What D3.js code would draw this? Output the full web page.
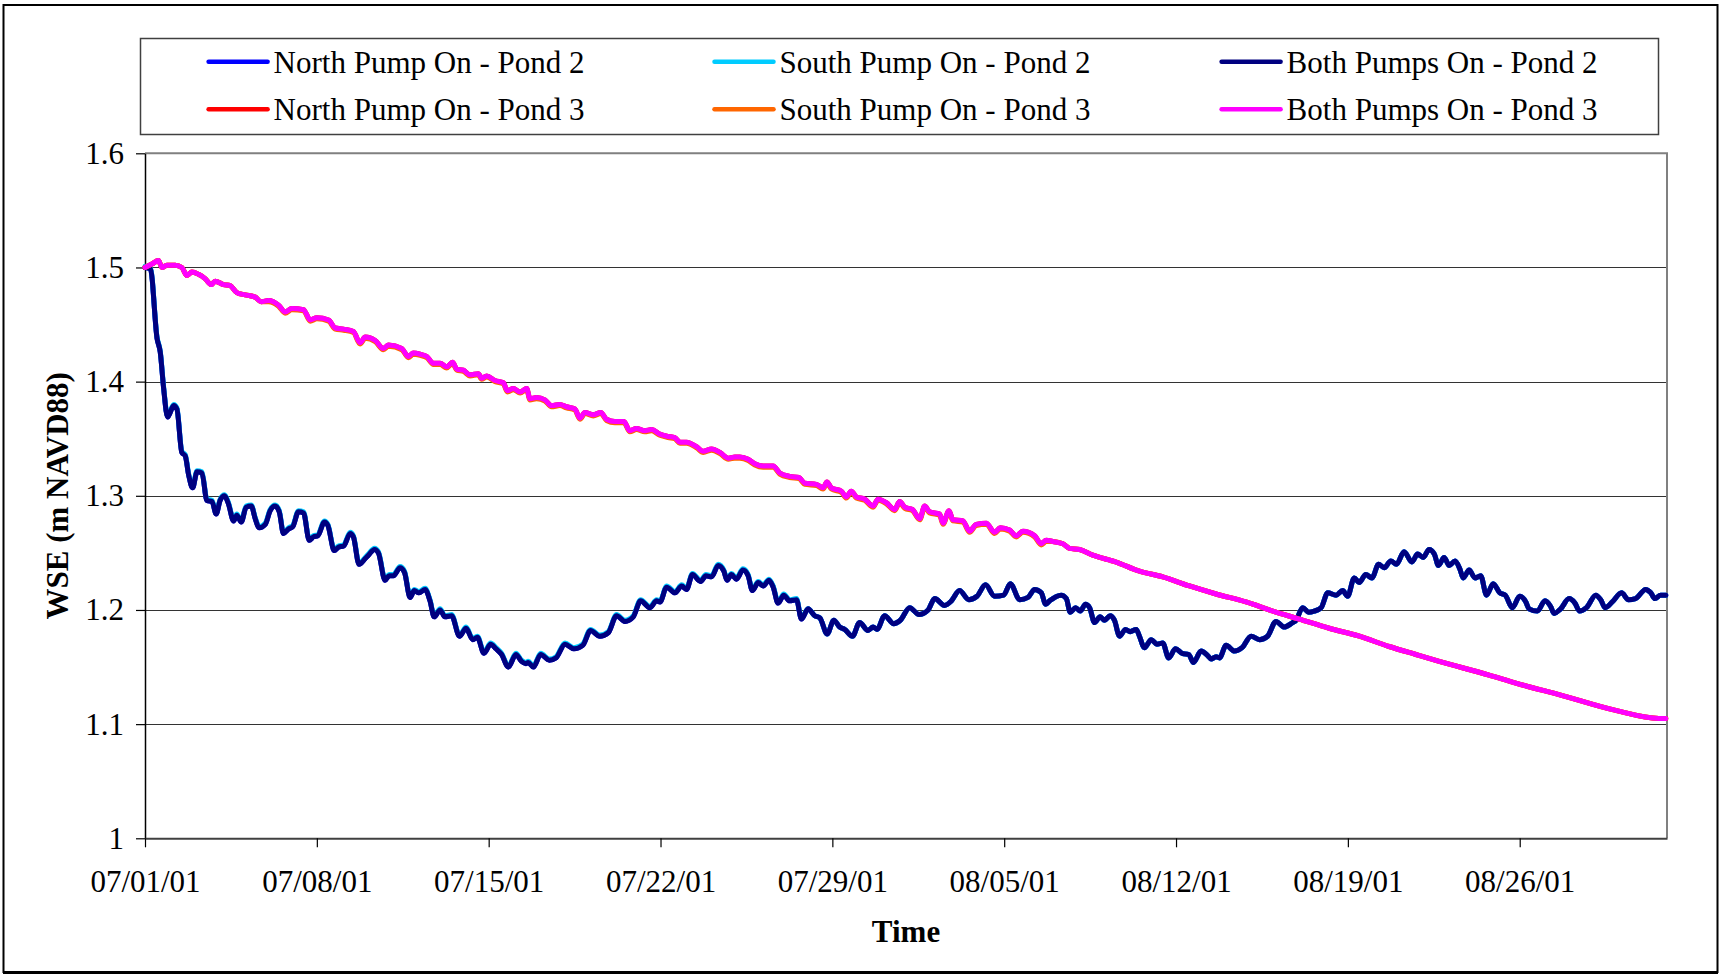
<!DOCTYPE html>
<html><head><meta charset="utf-8">
<script src="https://cdn.jsdelivr.net/npm/d3@7"></script>
<style>html,body{margin:0;padding:0;background:#fff;} svg{display:block;}</style>
</head><body>
<script>
// ---- DATA ----
// days since 07/01/01 00:00
const p2Days=[0,0.22,0.49,0.62,0.76,0.92,1.17,1.30,1.50,1.64,
1.78,1.94,2.12,2.32,2.52,2.73,2.90,3.06,3.24,3.40,
3.61,3.74,3.92,4.12,4.33,4.49,4.65,4.90,5.10,5.30,
5.47,5.64,5.85,6.02,6.25,6.46,6.69,6.86,7.04,7.31,
7.45,7.71,7.88,8.09,8.36,8.49,8.72,8.97,9.10,9.35,
9.51,9.78,9.94,10.12,10.39,10.57,10.80,10.97,11.16,11.41,
11.61,11.78,12.02,12.22,12.49,12.81,13.08,13.35,13.54,13.81,
14.08,14.30,14.53,14.80,15.11,15.34,15.52,15.61,15.82,16.12,
16.47,16.74,17.11,17.47,17.83,18.15,18.53,18.87,19.21,19.55,
19.89,20.19,20.57,20.84,20.98,21.25,21.59,21.86,22.06,22.30,
22.63,22.85,23.08,23.35,23.58,23.71,23.89,24.09,24.36,24.57,
24.74,24.98,25.18,25.42,25.59,25.79,26.02,26.26,26.54,26.74,
27.01,27.28,27.49,27.79,28.06,28.30,28.50,28.82,29.11,29.45,
29.66,29.82,30.13,30.50,30.77,31.15,31.53,31.90,32.17,32.57,
32.85,33.18,33.56,33.89,34.24,34.61,34.98,35.25,35.63,35.97,
36.24,36.51,36.69,36.85,37.32,37.53,37.69,37.91,38.10,38.31,
38.48,38.68,38.91,39.09,39.32,39.49,39.70,39.94,40.13,40.38,
40.51,40.71,40.99,41.22,41.46,41.70,41.98,42.25,42.52,42.71,
43.02,43.29,43.43,43.63,43.77,44.04,44.38,44.69,45.06,45.40,
45.73,46.07,46.41,46.75,46.89,47.16,47.40,47.63,47.91,48.18,
48.52,48.79,48.99,49.26,49.46,49.73,49.98,50.25,50.48,50.75,
50.98,51.29,51.61,51.84,52.07,52.31,52.52,52.69,52.92,53.13,
53.37,53.56,53.70,53.94,54.18,54.41,54.65,54.92,55.19,55.41,
55.70,56.00,56.25,56.38,56.72,57.03,57.26,57.40,57.67,58.01,
58.25,58.44,58.72,59.10,59.30,59.48,59.77,60.15,60.43,60.72,
61.13,61.34,61.51,61.74,61.95];

const bothPond2=[1.500,1.499,1.438,1.426,1.394,1.369,1.379,1.376,1.338,1.335,
1.318,1.307,1.321,1.320,1.296,1.295,1.284,1.296,1.300,1.293,
1.278,1.283,1.277,1.290,1.291,1.280,1.272,1.275,1.287,1.291,
1.286,1.267,1.271,1.273,1.286,1.285,1.261,1.264,1.265,1.277,
1.274,1.252,1.255,1.256,1.267,1.264,1.240,1.245,1.248,1.253,
1.250,1.226,1.230,1.230,1.237,1.233,1.211,1.217,1.215,1.218,
1.208,1.194,1.200,1.194,1.195,1.177,1.184,1.174,1.176,1.162,
1.170,1.166,1.161,1.150,1.161,1.155,1.153,1.154,1.150,1.161,
1.156,1.158,1.170,1.166,1.169,1.182,1.177,1.180,1.195,1.190,
1.194,1.208,1.202,1.208,1.207,1.220,1.215,1.221,1.218,1.231,
1.225,1.230,1.229,1.239,1.234,1.226,1.231,1.227,1.235,1.230,
1.217,1.224,1.221,1.226,1.220,1.206,1.213,1.208,1.209,1.192,
1.201,1.195,1.193,1.179,1.191,1.185,1.183,1.177,1.189,1.182,
1.185,1.183,1.195,1.188,1.191,1.202,1.196,1.200,1.210,1.204,
1.208,1.217,1.209,1.212,1.222,1.212,1.213,1.223,1.209,1.211,
1.218,1.215,1.205,1.208,1.213,1.210,1.198,1.202,1.199,1.205,
1.202,1.189,1.194,1.191,1.195,1.191,1.177,1.183,1.181,1.183,
1.177,1.167,1.174,1.170,1.171,1.158,1.166,1.162,1.161,1.154,
1.164,1.160,1.157,1.159,1.158,1.169,1.164,1.167,1.177,1.174,
1.177,1.190,1.185,1.189,1.191,1.202,1.198,1.199,1.202,1.215,
1.213,1.217,1.212,1.228,1.224,1.231,1.228,1.240,1.237,1.243,
1.240,1.251,1.242,1.249,1.246,1.253,1.249,1.239,1.246,1.239,
1.243,1.236,1.228,1.235,1.228,1.230,1.213,1.223,1.215,1.213,
1.202,1.212,1.207,1.201,1.199,1.208,1.203,1.197,1.201,1.210,
1.206,1.199,1.202,1.213,1.209,1.202,1.207,1.215,1.209,1.210,
1.218,1.215,1.210,1.213,1.213];

const northPond2=[1.500,1.499,1.438,1.426,1.394,1.369,1.379,1.376,1.338,1.335,
1.318,1.307,1.321,1.320,1.296,1.295,1.284,1.296,1.300,1.293,
1.278,1.283,1.277,1.290,1.291,1.280,1.272,1.275,1.287,1.291,
1.286,1.267,1.271,1.273,1.286,1.285,1.261,1.264,1.265,1.277,
1.274,1.252,1.255,1.256,1.267,1.264,1.240,1.245,1.248,1.253,
1.250,1.226,1.230,1.230,1.237,1.233,1.211,1.217,1.215,1.218,
1.208,1.194,1.200,1.194,1.195,1.177,1.184,1.174,1.176,1.162,
1.170,1.166,1.161,1.150,1.161,1.155,1.153,1.154,1.150,1.161,
1.156,1.158,1.170,1.166,1.169,1.182,1.177,1.180,1.195,1.190,
1.194,1.208,1.202,1.208,1.207,1.220,1.215,1.221,1.218,1.231,
1.225,1.230,1.229,1.239,1.234,1.226,1.231,1.227,1.235,1.230,
1.217,1.224,1.221,1.226,1.220,1.206,1.213,1.208,1.209,1.192,
1.201,1.195,1.193,1.179,1.191,1.185,1.183,1.177,1.189,1.182,
1.185,1.183,1.195,1.188,1.191,1.202,1.196,1.200,1.210,1.204,
1.208,1.217,1.209,1.212,1.222,1.212,1.213,1.223,1.209,1.211,
1.218,1.215,1.205,1.208,1.213,1.210,1.198,1.202,1.199,1.205,
1.202,1.189,1.194,1.191,1.195,1.191,1.177,1.183,1.181,1.183,
1.177,1.167,1.174,1.170,1.171,1.158,1.166,1.162,1.161,1.154,
1.164,1.160,1.157,1.159,1.158,1.169,1.164,1.167,1.177,1.174,
1.177,1.190,1.185,1.189,1.191,1.202,1.198,1.199,1.202,1.215,
1.213,1.217,1.212,1.228,1.224,1.231,1.228,1.240,1.237,1.243,
1.240,1.251,1.242,1.249,1.246,1.253,1.249,1.239,1.246,1.239,
1.243,1.236,1.228,1.235,1.228,1.230,1.213,1.223,1.215,1.213,
1.202,1.212,1.207,1.201,1.199,1.208,1.203,1.197,1.201,1.210,
1.206,1.199,1.202,1.213,1.209,1.202,1.207,1.215,1.209,1.210,
1.218,1.215,1.210,1.213,1.213];

const southPond2=[1.501,1.500,1.439,1.427,1.395,1.370,1.380,1.377,1.339,1.336,
1.319,1.308,1.322,1.321,1.297,1.296,1.285,1.297,1.301,1.294,
1.279,1.284,1.278,1.291,1.292,1.281,1.273,1.276,1.288,1.292,
1.287,1.268,1.272,1.274,1.287,1.286,1.262,1.265,1.266,1.278,
1.275,1.253,1.256,1.257,1.268,1.265,1.241,1.246,1.249,1.254,
1.251,1.227,1.231,1.231,1.238,1.234,1.212,1.218,1.216,1.219,
1.209,1.195,1.201,1.195,1.196,1.178,1.185,1.175,1.177,1.163,
1.171,1.167,1.162,1.151,1.162,1.156,1.154,1.155,1.151,1.162,
1.157,1.159,1.171,1.167,1.170,1.183,1.178,1.181,1.196,1.191,
1.195,1.209,1.203,1.209,1.208,1.221,1.216,1.222,1.219,1.232,
1.226,1.231,1.230,1.240,1.235,1.227,1.232,1.228,1.236,1.231,
1.218,1.225,1.222,1.227,1.221,1.207,1.214,1.209,1.210,1.193,
1.201,1.195,1.193,1.179,1.191,1.185,1.183,1.177,1.189,1.182,
1.185,1.183,1.195,1.188,1.191,1.202,1.196,1.200,1.210,1.204,
1.208,1.217,1.209,1.212,1.222,1.212,1.213,1.223,1.209,1.211,
1.218,1.215,1.205,1.208,1.213,1.210,1.198,1.202,1.199,1.205,
1.202,1.189,1.194,1.191,1.195,1.191,1.177,1.183,1.181,1.183,
1.177,1.167,1.174,1.170,1.171,1.158,1.166,1.162,1.161,1.154,
1.164,1.160,1.157,1.159,1.158,1.169,1.164,1.167,1.177,1.174,
1.177,1.190,1.185,1.189,1.191,1.202,1.198,1.199,1.202,1.215,
1.213,1.217,1.212,1.228,1.224,1.231,1.228,1.240,1.237,1.243,
1.240,1.251,1.242,1.249,1.246,1.253,1.249,1.239,1.246,1.239,
1.243,1.236,1.228,1.235,1.228,1.230,1.213,1.223,1.215,1.213,
1.202,1.212,1.207,1.201,1.199,1.208,1.203,1.197,1.201,1.210,
1.206,1.199,1.202,1.213,1.209,1.202,1.207,1.215,1.209,1.210,
1.218,1.215,1.210,1.213,1.213];

const p3Days=[0,0.28,0.55,0.69,0.89,1.23,1.50,1.71,1.91,2.18,
2.46,2.70,2.86,3.20,3.47,3.74,4.08,4.49,4.73,5.03,
5.44,5.71,5.98,6.46,6.73,7.00,7.48,7.75,8.09,8.49,
8.76,8.97,9.38,9.71,9.92,10.46,10.73,10.93,11.21,11.48,
11.75,12.02,12.29,12.53,12.70,12.97,13.24,13.58,13.71,13.92,
14.26,14.60,14.76,15.00,15.28,15.55,15.68,15.95,16.29,16.56,
16.90,17.17,17.51,17.72,17.92,18.26,18.57,18.80,19.14,19.51,
19.75,20.02,20.36,20.64,20.97,21.31,21.58,21.79,22.06,22.47,
22.74,23.08,23.42,23.76,24.03,24.23,24.57,24.84,25.18,25.59,
25.86,26.26,26.64,26.88,27.35,27.62,27.78,27.96,28.37,28.57,
28.77,28.98,29.32,29.66,29.86,30.20,30.54,30.74,30.95,31.26,
31.56,31.76,31.96,32.37,32.51,32.75,32.91,33.32,33.59,33.86,
34.27,34.61,34.84,35.22,35.49,35.76,36.24,36.51,36.71,36.98,
37.39,37.66,38.07,38.61,39.56,40.51,41.46,42.55,43.63,44.85,
45.94,47.02,48.24,49.47,50.68,51.77,52.72,54.75,55.84,57.74,
59.91,61.67,61.95];

const bothPond3=[1.500,1.503,1.506,1.500,1.502,1.502,1.500,1.493,1.496,1.494,
1.490,1.485,1.488,1.485,1.484,1.478,1.476,1.474,1.470,1.471,
1.467,1.461,1.464,1.463,1.454,1.456,1.454,1.447,1.446,1.444,
1.434,1.439,1.436,1.429,1.432,1.429,1.422,1.425,1.424,1.422,
1.416,1.416,1.413,1.417,1.411,1.410,1.406,1.407,1.403,1.405,
1.401,1.399,1.392,1.394,1.391,1.394,1.385,1.386,1.384,1.379,
1.380,1.378,1.376,1.368,1.373,1.371,1.373,1.367,1.365,1.365,
1.357,1.359,1.357,1.358,1.354,1.352,1.351,1.347,1.347,1.343,
1.339,1.341,1.338,1.333,1.334,1.334,1.332,1.328,1.326,1.326,
1.320,1.317,1.316,1.311,1.310,1.307,1.312,1.307,1.304,1.299,
1.304,1.299,1.297,1.291,1.297,1.294,1.288,1.295,1.290,1.288,
1.280,1.291,1.286,1.284,1.276,1.287,1.279,1.278,1.269,1.275,
1.276,1.268,1.272,1.270,1.265,1.269,1.265,1.258,1.261,1.260,
1.258,1.254,1.253,1.248,1.242,1.234,1.229,1.221,1.214,1.207,
1.199,1.192,1.184,1.177,1.168,1.161,1.155,1.143,1.136,1.125,
1.112,1.105,1.105];

const northPond3=[1.500,1.503,1.506,1.500,1.502,1.502,1.500,1.493,1.496,1.494,
1.490,1.485,1.488,1.485,1.484,1.478,1.476,1.474,1.470,1.471,
1.467,1.461,1.464,1.463,1.454,1.456,1.454,1.447,1.446,1.444,
1.434,1.439,1.436,1.429,1.432,1.429,1.422,1.425,1.424,1.422,
1.416,1.416,1.413,1.417,1.411,1.410,1.406,1.407,1.403,1.405,
1.401,1.399,1.392,1.394,1.391,1.394,1.385,1.386,1.384,1.379,
1.380,1.378,1.376,1.368,1.373,1.371,1.373,1.367,1.365,1.365,
1.357,1.359,1.357,1.358,1.354,1.352,1.351,1.347,1.347,1.343,
1.339,1.341,1.338,1.333,1.334,1.334,1.332,1.328,1.326,1.326,
1.320,1.317,1.316,1.311,1.310,1.307,1.312,1.307,1.304,1.299,
1.304,1.299,1.297,1.291,1.297,1.294,1.288,1.295,1.290,1.288,
1.280,1.291,1.286,1.284,1.276,1.287,1.279,1.278,1.269,1.275,
1.276,1.268,1.272,1.270,1.265,1.269,1.265,1.258,1.261,1.260,
1.258,1.254,1.253,1.248,1.242,1.234,1.229,1.221,1.214,1.207,
1.199,1.192,1.184,1.177,1.168,1.161,1.155,1.143,1.136,1.125,
1.112,1.105,1.105];

const southPond3=[1.500,1.503,1.506,1.500,1.502,1.502,1.500,1.493,1.496,1.494,
1.490,1.485,1.488,1.485,1.484,1.478,1.476,1.474,1.470,1.470,
1.466,1.460,1.463,1.462,1.453,1.455,1.453,1.446,1.445,1.443,
1.433,1.438,1.435,1.428,1.431,1.428,1.421,1.424,1.423,1.421,
1.415,1.415,1.412,1.416,1.410,1.409,1.405,1.406,1.402,1.404,
1.400,1.398,1.391,1.393,1.390,1.393,1.384,1.385,1.383,1.378,
1.379,1.377,1.375,1.367,1.372,1.370,1.372,1.366,1.364,1.364,
1.356,1.358,1.356,1.357,1.353,1.351,1.350,1.346,1.346,1.342,
1.338,1.340,1.337,1.332,1.333,1.333,1.331,1.327,1.325,1.325,
1.319,1.316,1.315,1.310,1.309,1.306,1.311,1.306,1.303,1.298,
1.303,1.298,1.296,1.290,1.296,1.293,1.287,1.294,1.289,1.287,
1.279,1.290,1.285,1.283,1.275,1.286,1.278,1.277,1.268,1.274,
1.275,1.267,1.271,1.269,1.264,1.268,1.264,1.257,1.260,1.260,
1.258,1.254,1.253,1.248,1.242,1.234,1.229,1.221,1.214,1.207,
1.199,1.192,1.184,1.177,1.168,1.161,1.155,1.143,1.136,1.125,
1.112,1.105,1.105];

const seriesNames=["North Pump On - Pond 2","South Pump On - Pond 2","Both Pumps On - Pond 2",
"North Pump On - Pond 3","South Pump On - Pond 3","Both Pumps On - Pond 3"];
const xTickLabels=["07/01/01","07/08/01","07/15/01","07/22/01","07/29/01","08/05/01","08/12/01","08/19/01","08/26/01"];
const yTickValues=[1,1.1,1.2,1.3,1.4,1.5,1.6];
const xTitle="Time";
const yTitle="WSE (m NAVD88)";

// ---- DRAWING ----
const W=1721,H=976;
const FONT='"Liberation Serif","Times New Roman",serif';
const FS=31;
const colors=["#0000FF","#00CCFF","#000080","#FF0000","#FF6600","#FF00FF"];
const L=145,R=1667,T=153.3,B=838.3;
const t0=Date.UTC(2001,6,1);
const toDate=d=>new Date(t0+d*86400000);
const parseTick=d3.utcParse("%m/%d/%y");
const x=d3.scaleUtc().domain([new Date(Date.UTC(2001,6,1)),new Date(Date.UTC(2001,8,1))]).range([L,R]);
const y=d3.scaleLinear().domain([1,1.6]).range([B,T]);

const svg=d3.select("body").append("svg").attr("width",W).attr("height",H)
  .style("font-family",FONT);
svg.append("rect").attr("width",W).attr("height",H).attr("fill","#fff");

// outer frame
svg.append("rect").attr("x",3.5).attr("y",5).attr("width",1714).attr("height",967)
  .attr("fill","none").attr("stroke","#000").attr("stroke-width",2);
svg.append("line").attr("x1",3).attr("x2",1718).attr("y1",972.5).attr("y2",972.5)
  .attr("stroke","#000").attr("stroke-width",3);

// gridlines
svg.append("g").selectAll("line").data(yTickValues.filter(v=>v>1&&v<1.6)).join("line")
  .attr("x1",L).attr("x2",R).attr("y1",d=>Math.round(y(d))+0.5).attr("y2",d=>Math.round(y(d))+0.5)
  .attr("stroke","#333").attr("stroke-width",1.2);
// plot top/right border
svg.append("path").attr("d",`M${L},${y(1.6)}H${R}V${B}`).attr("fill","none")
  .attr("stroke","#808080").attr("stroke-width",2);

// axes
const yAxis=d3.axisLeft(y).tickValues(yTickValues).tickSize(9).tickSizeOuter(0).tickPadding(12)
  .tickFormat(d=>d3.format(".1f")(d).replace(/\.0$/,""));
const gy=svg.append("g").attr("transform",`translate(${L},0)`).call(yAxis);
gy.select(".domain").attr("stroke","#000").attr("stroke-width",1.5);
gy.selectAll(".tick line").attr("stroke","#000").attr("stroke-width",1.2);
gy.selectAll("text").attr("font-size",FS).attr("font-family",FONT).attr("fill","#000");

const xAxis=d3.axisBottom(x).tickValues(xTickLabels.map(s=>parseTick(s))).tickSize(9).tickSizeOuter(0)
  .tickFormat(d3.utcFormat("%m/%d/%y"));
const gx=svg.append("g").attr("transform",`translate(0,${B})`).call(xAxis);
gx.select(".domain").attr("stroke","#404040").attr("stroke-width",2);
gx.selectAll(".tick line").attr("stroke","#000").attr("stroke-width",1.2);
gx.selectAll("text").attr("font-size",FS).attr("font-family",FONT).attr("fill","#000")
  .attr("y",53.6).attr("dy",0);

// series
const series=[
  {name:seriesNames[0],days:p2Days,vals:northPond2,color:colors[0]},
  {name:seriesNames[1],days:p2Days,vals:southPond2,color:colors[1]},
  {name:seriesNames[2],days:p2Days,vals:bothPond2,color:colors[2]},
  {name:seriesNames[3],days:p3Days,vals:northPond3,color:colors[3]},
  {name:seriesNames[4],days:p3Days,vals:southPond3,color:colors[4]},
  {name:seriesNames[5],days:p3Days,vals:bothPond3,color:colors[5]}
];
const line=d3.line().curve(d3.curveMonotoneX).x(d=>x(toDate(d[0]))).y(d=>y(d[1]));
svg.append("g").selectAll("path").data(series).join("path")
  .attr("d",s=>line(s.days.map((d,i)=>[d,s.vals[i]])))
  .attr("fill","none").attr("stroke",s=>s.color).attr("stroke-width",5)
  .attr("stroke-linejoin","round").attr("stroke-linecap","round");

// titles
svg.append("text").attr("x",(L+R)/2).attr("y",942).attr("text-anchor","middle")
  .attr("font-size",FS).attr("font-weight","bold").text(xTitle);
svg.append("text").attr("transform",`translate(68,${(T+B)/2}) rotate(-90)`).attr("text-anchor","middle")
  .attr("font-size",FS).attr("font-weight","bold").text(yTitle);

// legend
const lg=svg.append("g");
lg.append("rect").attr("x",140.5).attr("y",38.5).attr("width",1518).attr("height",96)
  .attr("fill","#fff").attr("stroke","#404040").attr("stroke-width",1.5);
const colX=[208.6,714.5,1221.6], rowY=[61.7,109.3];
const items=lg.selectAll("g.item").data(series).join("g").attr("class","item")
  .attr("transform",(s,i)=>`translate(${colX[i%3]},${rowY[Math.floor(i/3)]})`);
items.append("line").attr("x1",0).attr("x2",59).attr("stroke",s=>s.color).attr("stroke-width",4.5)
  .attr("stroke-linecap","round");
items.append("text").attr("x",65).attr("y",11).attr("font-size",FS).text(s=>s.name);
</script>
</body></html>
